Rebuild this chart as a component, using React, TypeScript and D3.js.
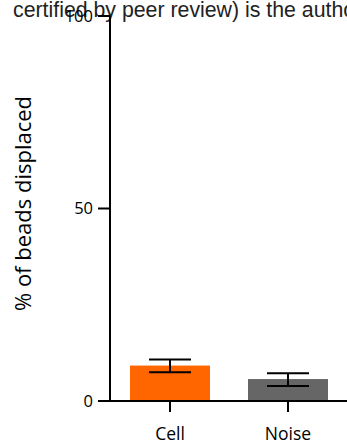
import React from "react";
import * as d3 from "d3";

const categories = ["Cell", "Noise"];
const means = [9.2, 5.7];
const errLow = [7.5, 3.9];
const errHigh = [10.8, 7.2];
const colors = ["#FF6600", "#666666"];
const yTicks = [0, 50, 100];

export default function App() {
  const W = 347, H = 445;
  const y = d3.scaleLinear().domain([0, 100]).range([401, 16]);
  const x = d3.scaleBand().domain(categories).range([111, 347]).paddingInner(0.322).paddingOuter(0.161);
  const axisX = 110;
  return (
    <svg width={W} height={H} style={{ position: "absolute", left: 0, top: 0 }}>
      <text x={13} y={16.5} fontFamily="Liberation Sans, Arial, sans-serif" fontSize={21.3} fill="#222">
        certified by peer review) is the author/funder
      </text>
      {categories.map((c, i) => {
        const bx = x(c)!;
        const bw = x.bandwidth();
        const cx = bx + bw / 2;
        return (
          <g key={c}>
            <rect x={bx} y={y(means[i])} width={bw} height={y(0) - y(means[i])} fill={colors[i]} />
            <line x1={cx} x2={cx} y1={y(errLow[i])} y2={y(errHigh[i])} stroke="#000" strokeWidth={2} />
            <line x1={cx - 21} x2={cx + 21} y1={y(errHigh[i])} y2={y(errHigh[i])} stroke="#000" strokeWidth={2} />
            <line x1={cx - 21} x2={cx + 21} y1={y(errLow[i])} y2={y(errLow[i])} stroke="#000" strokeWidth={2} />
            <line x1={cx} x2={cx} y1={y(0)} y2={y(0) + 11} stroke="#000" strokeWidth={2} />
            <text x={cx} y={440} textAnchor="middle" fontFamily="Open Sans, sans-serif" fontSize={17.5} fill="#000">{c}</text>
          </g>
        );
      })}
      <line x1={axisX} x2={347} y1={y(0)} y2={y(0)} stroke="#000" strokeWidth={2} />
      <line x1={axisX} x2={axisX} y1={y(100)} y2={y(0) + 1} stroke="#000" strokeWidth={2} />
      {yTicks.map((t) => (
        <g key={t}>
          <line x1={axisX - 12} x2={axisX} y1={y(t)} y2={y(t)} stroke="#000" strokeWidth={2} />
          <text x={axisX - 17} y={y(t)} dy="0.36em" textAnchor="end" fontFamily="Open Sans, sans-serif" fontSize={16.5} fill="#000">{t}</text>
        </g>
      ))}
      <text transform={`translate(31,${(92 + 315) / 2}) rotate(-90)`} textAnchor="middle" fontFamily="Open Sans, sans-serif" fontSize={22} fill="#000">
        % of beads displaced
      </text>
    </svg>
  );
}
